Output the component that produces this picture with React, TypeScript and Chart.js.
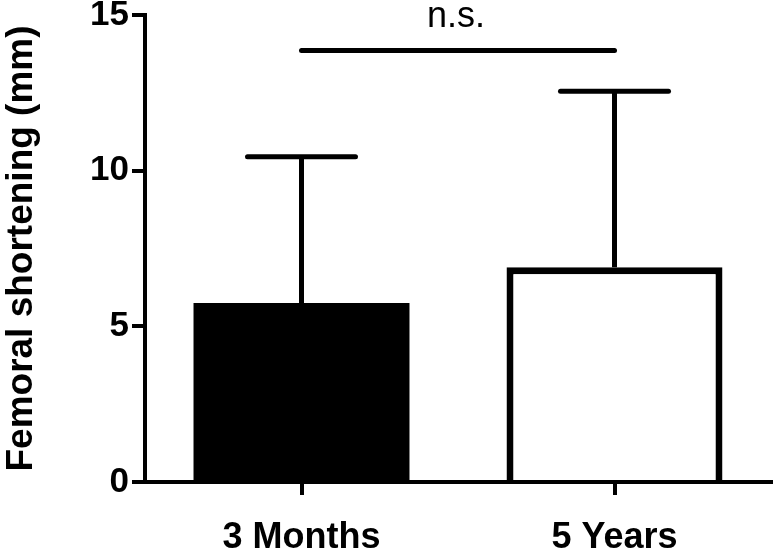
import React, { useEffect, useRef } from "react";
import { Chart, registerables } from "chart.js";

Chart.register(...registerables);

const categories = ["3 Months", "5 Years"];
const meanValues = [5.75, 6.9];
const errorTops = [10.45, 12.55];
const barFills = ["#000000", "#ffffff"];
const barBorders = [0, 7];
const yTickValues = [0, 5, 10, 15];
const sigLevel = 13.86;
const sigLabel = "n.s.";
const yTitle = "Femoral shortening (mm)";

const FONT = "'Liberation Sans', Arial, sans-serif";

const annotationPlugin = {
  id: "errorsAndSig",
  afterDatasetsDraw(chart: any) {
    const ctx = chart.ctx;
    const meta = chart.getDatasetMeta(0);
    const yScale = chart.scales.y;
    ctx.save();
    ctx.strokeStyle = "#000";
    ctx.lineWidth = 5;
    meta.data.forEach((bar: any, i: number) => {
      const p = bar.getProps(["x", "y", "width"], true);
      const top = yScale.getPixelForValue(errorTops[i]);
      const half = p.width / 4;
      ctx.lineCap = "butt";
      ctx.beginPath();
      ctx.moveTo(p.x, p.y);
      ctx.lineTo(p.x, top);
      ctx.stroke();
      ctx.lineCap = "round";
      ctx.beginPath();
      ctx.moveTo(p.x - half, top);
      ctx.lineTo(p.x + half, top);
      ctx.stroke();
    });
    const a = meta.data[0].getProps(["x"], true).x;
    const b = meta.data[1].getProps(["x"], true).x;
    const sy = yScale.getPixelForValue(sigLevel);
    ctx.lineCap = "round";
    ctx.beginPath();
    ctx.moveTo(a, sy);
    ctx.lineTo(b, sy);
    ctx.stroke();
    ctx.fillStyle = "#000";
    ctx.font = `36px ${FONT}`;
    ctx.textAlign = "center";
    ctx.textBaseline = "alphabetic";
    ctx.fillText(sigLabel, (a + b) / 2 - 2, sy - 23);
    ctx.restore();
  },
};

export default function App() {
  const ref = useRef<HTMLCanvasElement | null>(null);
  useEffect(() => {
    if (!ref.current) return;
    const chart = new Chart(ref.current, {
      type: "bar",
      data: {
        labels: categories,
        datasets: [
          {
            data: meanValues,
            backgroundColor: barFills,
            borderColor: "#000",
            borderWidth: barBorders,
            borderSkipped: "start",
            barPercentage: 0.69,
            categoryPercentage: 1,
          },
        ],
      },
      options: {
        responsive: false,
        animation: false,
        layout: { padding: { top: 15, right: 3, left: 0, bottom: 0 } },
        plugins: {
          legend: { display: false },
          tooltip: { enabled: false },
        },
        scales: {
          x: {
            type: "category",
            offset: true,
            grid: {
              display: true,
              offset: false,
              drawOnChartArea: false,
              drawTicks: true,
              tickLength: 13,
              lineWidth: 4,
              color: "#000",
            },
            border: { display: true, color: "#000", width: 4 },
            ticks: {
              color: "#000",
              padding: 21,
              font: { family: FONT, size: 36, weight: "bold" },
              maxRotation: 0,
            },
            afterFit: (s: any) => {
              s.height = 73;
              s.paddingLeft = 0;
              s.paddingRight = 0;
            },
          },
          y: {
            min: 0,
            max: 15,
            afterBuildTicks: (s: any) => {
              s.ticks = yTickValues.map((v) => ({ value: v }));
            },
            grid: {
              display: true,
              drawOnChartArea: false,
              drawTicks: true,
              tickLength: 13,
              lineWidth: 4,
              color: "#000",
            },
            border: { display: true, color: "#000", width: 4 },
            ticks: {
              color: "#000",
              padding: 3,
              font: { family: FONT, size: 35, weight: "bold" },
            },
            title: {
              display: true,
              text: yTitle,
              color: "#000",
              padding: 0,
              font: { family: FONT, size: 37, weight: "bold" },
            },
            afterFit: (s: any) => {
              s.width = 145;
              s.paddingTop = 0;
              s.paddingBottom = 0;
            },
          },
        },
      },
      plugins: [annotationPlugin],
    });
    return () => chart.destroy();
  }, []);
  return (
    <div style={{ position: "absolute", left: 0, top: 0, width: 774, height: 555, background: "#fff" }}>
      <canvas ref={ref} width={774} height={555} />
    </div>
  );
}
